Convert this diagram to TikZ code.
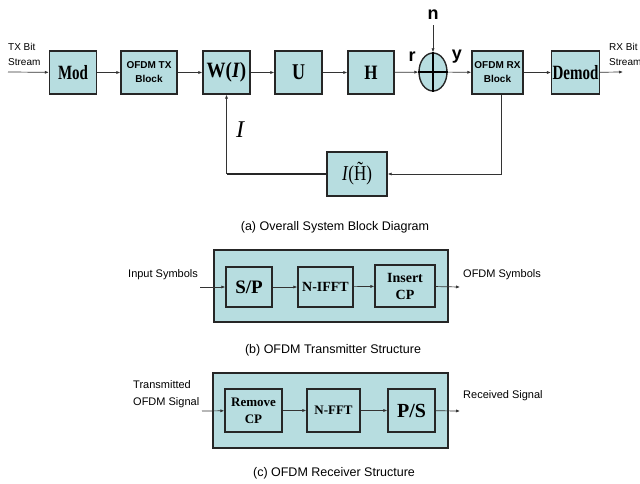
\documentclass[tikz,border=0pt]{standalone}
\usepackage{fontspec}
\setmainfont{Liberation Serif}
\setsansfont{Liberation Sans}
\usetikzlibrary{shapes.geometric,positioning,arrows.meta,calc}
\definecolor{blockfill}{RGB}{183,221,224}
\newcommand{\tallbox}[2][1.25]{\scalebox{1}[#1]{#2}}

\begin{document}
\begin{tikzpicture}[x=1pt, y=-1pt,
    block/.style={draw=black!85, fill=blockfill, line width=1.4pt, minimum width=47pt, minimum height=43pt, inner sep=1pt, align=center, font=\bfseries\fontsize{15}{16}\selectfont},
    sblock/.style={block, font=\sffamily\bfseries\fontsize{10}{14}\selectfont},
    frame/.style={draw=black!85, fill=blockfill, line width=2pt},
    sig/.style={line width=0.7pt, draw=black!80, -{Latex[length=4pt,width=3.2pt]}},
    sigtext/.style={font=\sffamily\fontsize{11}{17}\selectfont, align=left, inner sep=0pt},
    caption/.style={font=\sffamily\fontsize{12.5}{14}\selectfont},
    sym/.style={font=\sffamily\bfseries\fontsize{18}{18}\selectfont, inner sep=0pt}
]
    \useasboundingbox (0,0) rectangle (640,484);
    \fill[white] (0,0) rectangle (640,484);

    % (a) Overall system
    \node[block] (mod) at (73,72.5) {\tallbox[1.35]{Mod}};
    \node[sblock, minimum width=56pt] (tx) at (149,72.5) {OFDM TX\\Block};
    \node[block, font=\bfseries\fontsize{19}{20}\selectfont] (w) at (226.5,72.5) {\tallbox[1.15]{W(\textit{I})}};
    \node[block, font=\bfseries\fontsize{18}{19}\selectfont] (u) at (298.5,72.5) {\tallbox{U}};
    \node[block, minimum width=46pt, font=\bfseries\fontsize{17}{18}\selectfont] (h) at (371,72.5) {\tallbox[1.2]{H}};
    \node[ellipse, draw=black!85, fill=blockfill, line width=1.4pt, minimum width=28pt, minimum height=38pt, inner sep=0pt] (sum) at (433,72) {};
    \draw[line width=1.2pt] (sum.north) -- (sum.south) (sum.west) -- (sum.east);
    \node[sblock, minimum width=51pt] (rx) at (497.5,72.5) {OFDM RX\\Block};
    \node[block] (dm) at (575.5,72.5) {\tallbox[1.35]{Demod}};
    \node[block, minimum width=60pt, minimum height=44pt, font=\fontsize{17}{18}\selectfont] (est) at (357,174) {\tallbox{\textit{I}(\~{H})}};

    \node[sym] (nlab) at (433,15) {n};
    \node[sym] (rlab) at (412,57) {r};
    \node[sym] (ylab) at (457,57) {y};
    \node[font=\itshape\fontsize{24}{24}\selectfont, inner sep=0pt] (ilab) at (240,130) {I};

    \node[sigtext, anchor=west, font=\sffamily\fontsize{10}{15}\selectfont] (txbits) at (8,54.5) {TX Bit\\Stream};
    \node[sigtext, anchor=west, font=\sffamily\fontsize{10}{15}\selectfont] (rxbits) at (609,54.5) {RX Bit\\Stream};
    \coordinate (txin) at (8,72);
    \coordinate (rxout) at (623,72);

    \draw[sig] (txin) -- (mod);
    \foreach \a/\b in {mod/tx, tx/w, w/u, u/h, h/sum, sum/rx, rx/dm} {
        \draw[sig] (\a) -- (\b);
    }
    \draw[sig] (dm) -- (rxout);
    \draw[sig, shorten <=5pt] (nlab.south) -- (sum.north);

    % Feedback
    \coordinate (fbl) at (w.south |- est.west);
    \draw[sig] ([xshift=4pt]rx.south) |- (est.east);
    \draw[line width=2pt, draw=black!85] (est.west) -- (fbl);
    \draw[sig] (fbl) -- (w.south);

    \node[caption] (capa) at (335,227) {(a) Overall System Block Diagram};

    % (b) Transmitter
    \node[frame, minimum width=234pt, minimum height=72pt] (txframe) at (331,286) {};
    \node[block, minimum width=46pt, minimum height=40pt, font=\bfseries\fontsize{19}{20}\selectfont] (sp) at (249,287) {S/P};
    \node[block, minimum width=55pt, minimum height=40pt, font=\bfseries\fontsize{14}{15}\selectfont] (ifft) at (325.5,287) {N-IFFT};
    \node[block, minimum width=60pt, minimum height=42pt, font=\bfseries\fontsize{14}{17}\selectfont] (cp) at (405,286) {Insert\\CP};
    \node[sigtext, anchor=west] (insym) at (128,275) {Input Symbols};
    \node[sigtext, anchor=west] (outsym) at (463,275) {OFDM Symbols};
    \coordinate (inb) at (200,287);
    \coordinate (outb) at (460,287);
    \foreach \a/\b in {inb/sp, sp/ifft, ifft/cp, cp/outb} {
        \draw[sig] (\a) -- (\b);
    }
    \node[caption] (capb) at (333,350) {(b) OFDM Transmitter Structure};

    % (c) Receiver
    \node[frame, minimum width=235pt, minimum height=75pt] (rxframe) at (330.5,410.5) {};
    \node[block, minimum width=57pt, minimum height=43pt, font=\bfseries\fontsize{13}{17}\selectfont] (rcp) at (253.5,410.5) {Remove\\CP};
    \node[block, minimum width=53pt, minimum height=43pt, font=\bfseries\fontsize{13}{14}\selectfont] (fft) at (333.5,410.5) {N-FFT};
    \node[block, minimum width=47pt, minimum height=43pt, font=\bfseries\fontsize{20}{21}\selectfont] (ps) at (411.5,410.5) {P/S};
    \node[sigtext, anchor=west] (insig) at (133,394) {Transmitted\\OFDM Signal};
    \node[sigtext, anchor=west] (outsig) at (463,396) {Received Signal};
    \coordinate (inc) at (202,411);
    \coordinate (outc) at (460,411);
    \foreach \a/\b in {inc/rcp, rcp/fft, fft/ps, ps/outc} {
        \draw[sig] (\a) -- (\b);
    }
    \node[caption] (capc) at (334,473) {(c) OFDM Receiver Structure};

\end{tikzpicture}
\end{document}
